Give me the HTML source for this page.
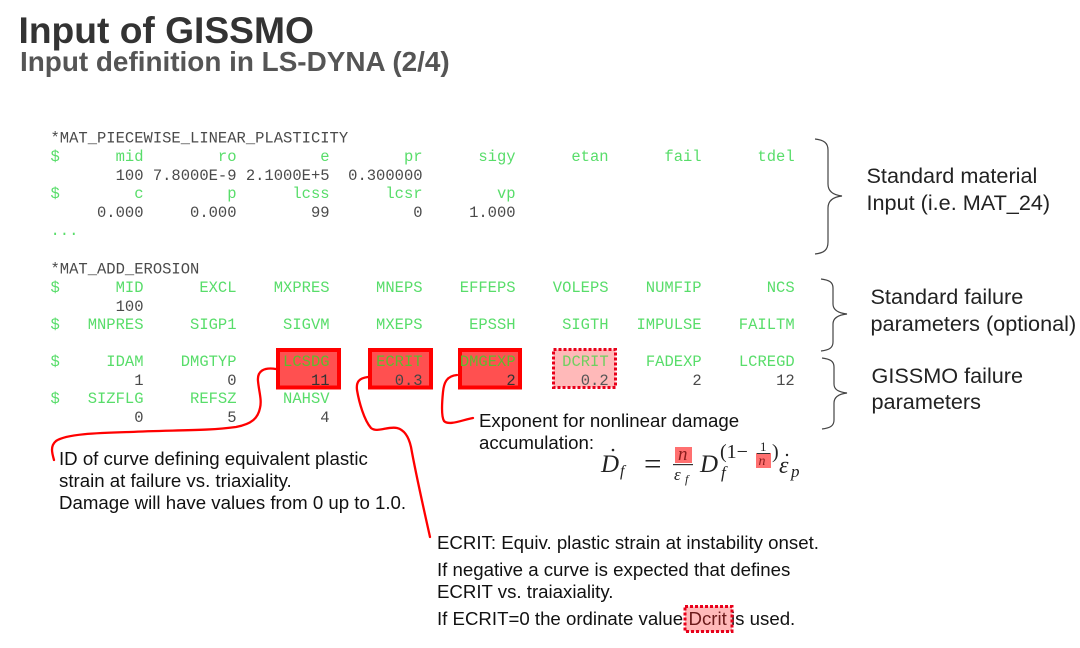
<!DOCTYPE html>
<html><head><meta charset="utf-8">
<style>
html,body{margin:0;padding:0;background:#fff;width:1080px;height:648px;overflow:hidden}
svg{display:block;filter:blur(0.3px)}
.m{font-family:"Liberation Mono",monospace;font-size:15.5px;white-space:pre}
.g{fill:#58dd6a}.k{fill:#4a4a4a}
.a{font-family:"Liberation Sans",Arial,sans-serif;font-size:18.65px;fill:#111}
.b{font-family:"Liberation Sans",Arial,sans-serif;font-size:21.65px;fill:#222}
.s{font-family:"Liberation Serif",serif;fill:#222}
.i{font-style:italic}
</style></head><body>
<svg width="1080" height="648" viewBox="0 0 1080 648" xmlns="http://www.w3.org/2000/svg">
<rect width="1080" height="648" fill="#fff"/>
<text x="18.500" y="43" font-family="Liberation Sans" font-weight="700" font-size="37.2" fill="#333">Input of GISSMO</text>
<text x="20" y="71" font-family="Liberation Sans" font-weight="700" font-size="27.9" fill="#555">Input definition in LS-DYNA (2/4)</text>

<rect x="278" y="350" width="61" height="37.500" fill="#ff5050" stroke="#f00" stroke-width="4"/>
<rect x="370" y="350" width="61" height="37.500" fill="#ff5050" stroke="#f00" stroke-width="4"/>
<rect x="460" y="350" width="60" height="37.500" fill="#ff5050" stroke="#f00" stroke-width="4"/>
<rect x="553.500" y="349.500" width="62" height="38" fill="#ffb9b9" stroke="#e8001a" stroke-width="3" stroke-dasharray="3 2"/>

<text class="m k" x="50.500" y="142.500">*MAT_PIECEWISE_LINEAR_PLASTICITY</text>
<text class="m g" x="50.500" y="161">$      mid        ro         e        pr      sigy      etan      fail      tdel</text>
<text class="m k" x="50.500" y="180">       100 7.8000E-9 2.1000E+5  0.300000</text>
<text class="m g" x="50.500" y="198">$        c         p      lcss      lcsr        vp</text>
<text class="m k" x="50.500" y="217">     0.000     0.000        99         0     1.000</text>
<text class="m g" x="50.500" y="235">...</text>
<text class="m k" x="50.500" y="273.500">*MAT_ADD_EROSION</text>
<text class="m g" x="50.500" y="292">$      MID      EXCL    MXPRES     MNEPS    EFFEPS    VOLEPS    NUMFIP       NCS</text>
<text class="m k" x="50.500" y="311">       100</text>
<text class="m g" x="50.500" y="329">$   MNPRES     SIGP1     SIGVM     MXEPS     EPSSH     SIGTH   IMPULSE    FAILTM</text>
<text class="m g" x="50.500" y="366">$     IDAM    DMGTYP     <tspan fill="#5fbb2e">LCSDG</tspan>     <tspan fill="#5fbb2e">ECRIT</tspan>    <tspan fill="#5fbb2e">DMGEXP</tspan>     <tspan fill="#6fd060">DCRIT</tspan>    FADEXP    LCREGD</text>
<text class="m k" x="50.500" y="385">         1         0        <tspan fill="#333">11</tspan>       <tspan fill="#444">0.3</tspan>         <tspan fill="#333">2</tspan>       <tspan fill="#555">0.2</tspan>         2        12</text>
<text class="m g" x="50.500" y="403">$   SIZFLG     REFSZ     NAHSV</text>
<text class="m k" x="50.500" y="422">         0         5         4</text>

<g fill="none" stroke="#f00" stroke-width="2.300" stroke-linecap="round">
<path d="M276 369C264 367 257 371 258 381C259 392 262 400 260 408C258 418 252 424 236 427C208 431 170 430 130 432C96 433 66 434 56 441C50 446 52 453 54 460"/>
<path d="M368 377C359 378 356 382 357 390C359 402 364 420 371 428C377 433 388 426 397 428C405 430 409 438 411 447C416 475 424 510 430 537"/>
<path d="M457 375C447 376 444 382 443 392C442 402 441 416 444 421C449 426 462 420 473 418"/>
</g>
<g fill="none" stroke="#444" stroke-width="1.200">
<path d="M815 139C824 140 828 143 828 150V184C828 191 833 195 842 196C833 197 828 201 828 208V242C828 250 824 253 815 254"/>
<path d="M821 279C829 280 833 282 833 288V304C833 310 838 313 847 314C838 315 833 318 833 324V342C833 348 829 350 821 351"/>
<path d="M822 358C830 359 834 361 834 367V384C834 390 839 392 847 393C839 394 834 397 834 403V420C834 426 830 428 822 429"/>
</g>

<text class="b" x="866.500" y="183">Standard material</text>
<text class="b" x="866.500" y="210">Input (i.e. MAT_24)</text>
<text class="b" x="870.500" y="304">Standard failure</text>
<text class="b" x="870.500" y="331">parameters (optional)</text>
<text class="b" x="871.500" y="383">GISSMO failure</text>
<text class="b" x="871.500" y="409">parameters</text>

<text class="a" x="59" y="465">ID of curve defining equivalent plastic</text>
<text class="a" x="59" y="487">strain at failure vs. triaxiality.</text>
<text class="a" x="59" y="509">Damage will have values from 0 up to 1.0.</text>
<text class="a" x="479" y="427">Exponent for nonlinear damage</text>
<text class="a" x="479" y="449">accumulation:</text>
<text class="a" x="437" y="549">ECRIT: Equiv. plastic strain at instability onset.</text>
<text class="a" x="437" y="576">If negative a curve is expected that defines</text>
<text class="a" x="437" y="598">ECRIT vs. traiaxiality.</text>
<text class="a" x="437" y="625">If ECRIT=0 the ordinate value</text>
<text class="a" x="731" y="625">is used.</text>
<rect x="685" y="606.500" width="47" height="25" fill="#ffb9b9" stroke="#e8001a" stroke-width="3" stroke-dasharray="3 2"/>
<text class="a" x="688.500" y="625" style="fill:#6b1a1a">Dcrit</text>

<rect x="675" y="447" width="17" height="16" fill="#ff7070"/>
<rect x="756" y="453" width="15" height="15" fill="#ff7070"/>
<text class="s i" x="601" y="472" font-size="25">D</text>
<circle cx="613" cy="450" r="1.300" fill="#222"/>
<text class="s i" x="620" y="476" font-size="16">f</text>
<text class="s" x="644" y="474" font-size="31">=</text>
<text class="s i" x="678" y="460" font-size="19" style="fill:#8a1c1c">n</text>
<rect x="673" y="464" width="20" height="1.200" fill="#333"/>
<text class="s i" x="674" y="480" font-size="17">ε</text>
<text class="s i" x="685" y="483" font-size="12">f</text>
<text class="s i" x="700" y="472" font-size="25">D</text>
<text class="s i" x="721" y="478" font-size="17">f</text>
<text class="s" x="720" y="458" font-size="20">(1−</text>
<text class="s" x="760" y="451" font-size="13">1</text>
<rect x="757" y="453" width="13" height="1" fill="#333"/>
<text class="s i" x="758.500" y="465" font-size="14" style="fill:#8a1c1c">n</text>
<text class="s" x="772" y="458" font-size="20">)</text>
<text class="s i" x="779" y="473" font-size="24">ε</text>
<circle cx="787" cy="455" r="1.200" fill="#222"/>
<text class="s i" x="791" y="477" font-size="17">p</text>
</svg>
</body></html>
